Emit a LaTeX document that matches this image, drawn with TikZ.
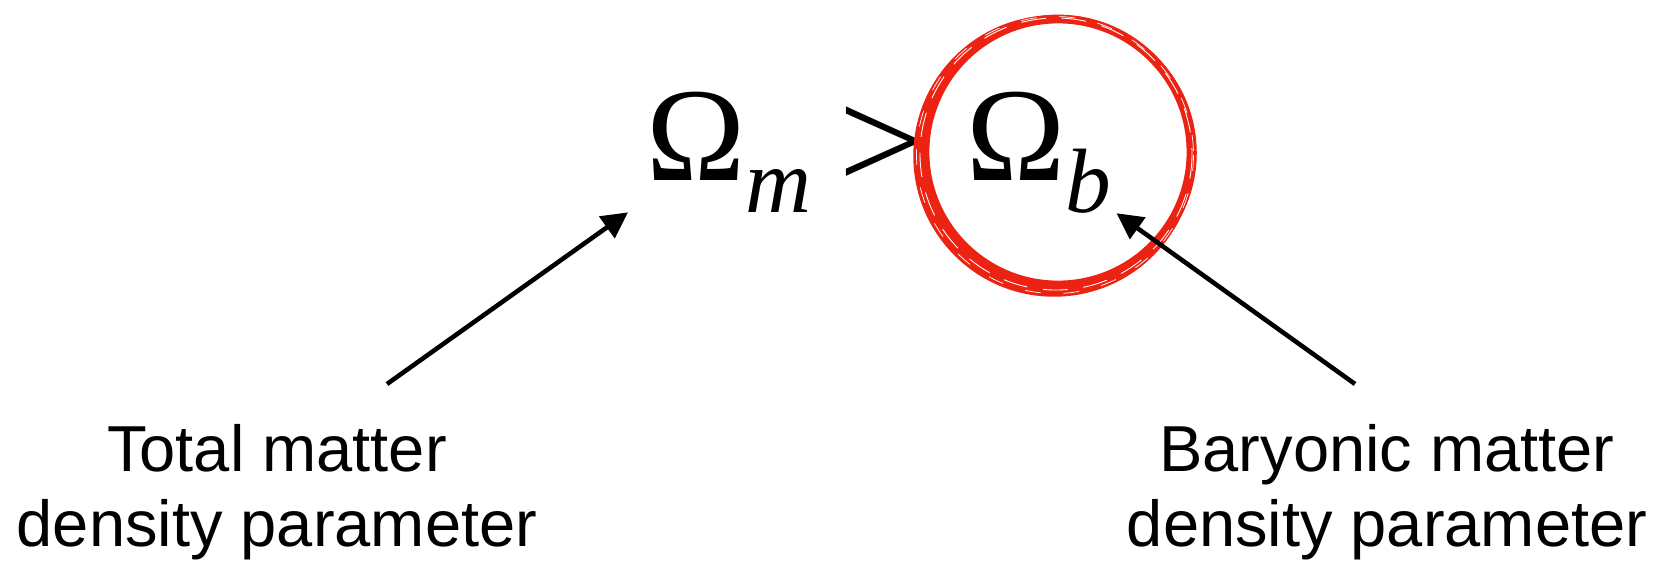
\documentclass[tikz,border=0pt]{standalone}
\usepackage{fontspec}
\setmainfont{Liberation Serif}
\newfontfamily\labelfont{Liberation Sans}
\usetikzlibrary{positioning, arrows.meta, calc}
\definecolor{brushred}{RGB}{236,34,18}
\tikzset{
    % Text styles
    symbol/.style={inner sep=0pt, anchor=base west, font=\fontsize{76}{80}\selectfont},
    descr/.style={align=center, inner sep=0pt, font=\labelfont\fontsize{37}{43}\selectfont},
    % Arrow styles
    pointer/.style={-{Triangle[length=0.52cm, width=0.52cm]}, line width=2.6pt},
    brush/.style={brushred, line width=1.6pt},
}
\newcommand{\denssym}[1]{Ω\raisebox{-0.64cm}{\fontsize{52}{58}\selectfont\itshape #1}}

\begin{document}
\begin{tikzpicture}[x=0.02cm, y=-0.02cm]
    \useasboundingbox (0,0) rectangle (1660,562);

    % The inequality
    \node[symbol] (omm) at (646, 180) {\denssym{m}};
    \node[symbol, anchor=center] (gt) at (883, 148) {\scalebox{1.17}[1.08]{>}};
    \node[symbol] (omb) at (966, 180) {\denssym{b}};

    % Hand-drawn circle round the baryon term
    \foreach \dx/\dy/\r/\w in {0/0/133/5.0, -1/1/134.4/2.6, -2/2/135.8/2.4,
                               -3/3/137.2/2.2, -4/4/138.6/2.4, 3/1/134/2.0} {
        \draw[brush, line width=\w pt] (1058+\dx, 152+\dy) circle [radius=\r];
    }
    \draw[white, line width=0.5pt, dash pattern=on 14pt off 9pt] (1056, 154) circle [radius=136];
    \draw[white, line width=0.4pt, dash pattern=on 9pt off 13pt] (1055, 155) circle [radius=138.5];

    % Descriptions
    \node[descr] (tot) at (277, 492) {Total matter\\density parameter};
    \node[descr] (bar) at (1387, 492) {Baryonic matter\\density parameter};

    % Pointers
    \coordinate (tot tail) at (387, 384);
    \coordinate (bar tail) at (1355, 384);
    \draw[pointer] (tot tail) -- ([xshift=-0.36cm]omm.south west);
    \draw[pointer] (bar tail) -- ([xshift=0.1cm]omb.south east);
\end{tikzpicture}
\end{document}
